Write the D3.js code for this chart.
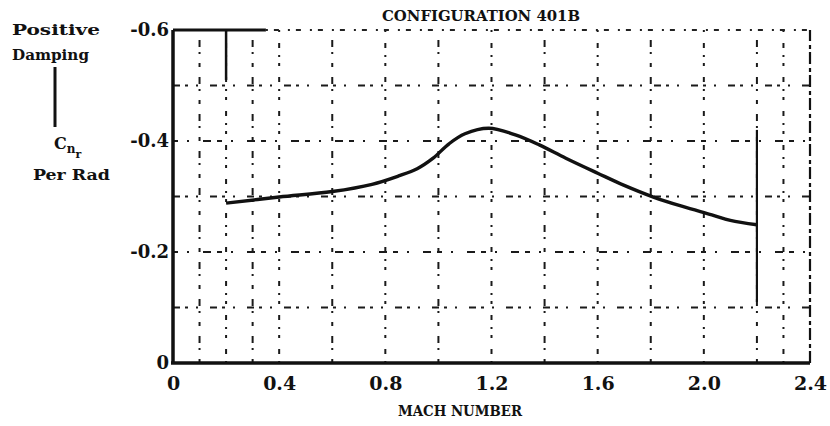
<!DOCTYPE html>
<html>
<head>
<meta charset="utf-8">
<script src="https://cdn.jsdelivr.net/npm/d3@7"></script>
<style>
  html, body { margin: 0; padding: 0; background: #fff; }
  svg { display: block; }
  text { font-family: "DejaVu Serif", serif; font-weight: bold; fill: #111; }
</style>
</head>
<body>
<svg id="chart" width="830" height="426"></svg>
<script>
// Yawing-moment damping derivative vs Mach number, configuration 401B
const machNumbers = [0.2, 0.4, 0.6, 0.75, 0.85, 0.92, 0.98, 1.04, 1.1, 1.19, 1.29, 1.38, 1.48, 1.6, 1.7, 1.81, 1.92, 2.03, 2.1, 2.2];
const cnrValues   = [-0.288, -0.299, -0.309, -0.322, -0.337, -0.350, -0.369, -0.395, -0.413, -0.423, -0.411, -0.393, -0.369, -0.342, -0.320, -0.299, -0.282, -0.267, -0.257, -0.249];
const xTicks = [0, 0.4, 0.8, 1.2, 1.6, 2.0, 2.4];
const xTickLabels = ["0", "0.4", "0.8", "1.2", "1.6", "2.0", "2.4"];
const yTicks = [0, -0.2, -0.4, -0.6];
const yTickLabels = ["0", "-0.2", "-0.4", "-0.6"];
const xGrid = [0.1, 0.2, 0.3, 0.4, 0.6, 0.8, 1.0, 1.2, 1.4, 1.6, 1.8, 2.0, 2.2, 2.3];
const yGrid = [-0.1, -0.2, -0.3, -0.4, -0.5];

const svg = d3.select("#chart");
const margin = { left: 173, right: 20, top: 30, bottom: 63 };
const W = 830, H = 426;
const x = d3.scaleLinear().domain([0, 2.4]).range([margin.left, W - margin.right]);
const y = d3.scaleLinear().domain([0, -0.6]).range([H - margin.bottom, margin.top]);

// grid: broken, dotted printed lines
const grid = svg.append("g");
grid.selectAll("line.vg").data(xGrid).join("line")
  .attr("x1", d => x(d)).attr("x2", d => x(d))
  .attr("y1", y(0)).attr("y2", y(-0.6))
  .attr("stroke", "#1a1a1a").attr("stroke-width", 2)
  .attr("stroke-dasharray", (d, i) => i % 2 ? "2,7,5,11,3,6" : "4,9,2,5,7,10");
grid.selectAll("line.hg").data(yGrid).join("line")
  .attr("x1", x(0)).attr("x2", x(2.4))
  .attr("y1", d => y(d)).attr("y2", d => y(d))
  .attr("stroke", "#1a1a1a").attr("stroke-width", 2)
  .attr("stroke-dasharray", (d, i) => i % 2 ? "5,9,2,14,8,6" : "7,5,3,8,2,12");

// heavier printed verticals near the top-left and right edge
svg.append("line").attr("x1", x(0.2)).attr("x2", x(0.2)).attr("y1", y(-0.6)).attr("y2", y(-0.51))
  .attr("stroke", "#111").attr("stroke-width", 2.5);
svg.append("line").attr("x1", x(2.2)).attr("x2", x(2.2)).attr("y1", y(-0.42)).attr("y2", y(-0.11))
  .attr("stroke", "#111").attr("stroke-width", 2.2);

// frame
svg.append("line").attr("x1", x(0)).attr("x2", x(0)).attr("y1", y(0)).attr("y2", y(-0.6))
  .attr("stroke", "#111").attr("stroke-width", 3.5);
svg.append("line").attr("x1", x(0) - 2).attr("x2", x(2.4)).attr("y1", y(0)).attr("y2", y(0))
  .attr("stroke", "#111").attr("stroke-width", 3.5);
svg.append("line").attr("x1", x(0)).attr("x2", x(0.35)).attr("y1", y(-0.6)).attr("y2", y(-0.6))
  .attr("stroke", "#111").attr("stroke-width", 3);
svg.append("line").attr("x1", x(0.35)).attr("x2", x(2.4)).attr("y1", y(-0.6)).attr("y2", y(-0.6))
  .attr("stroke", "#222").attr("stroke-width", 2).attr("stroke-dasharray", "2,6,5,9");
svg.append("line").attr("x1", x(2.4)).attr("x2", x(2.4)).attr("y1", y(0)).attr("y2", y(-0.6))
  .attr("stroke", "#111").attr("stroke-width", 2.2).attr("stroke-dasharray", "12,3,4,4");

// axes via d3 with custom labels
const xAxis = d3.axisBottom(x).tickValues(xTicks).tickFormat((d, i) => xTickLabels[i]).tickSize(0).tickPadding(14);
const gx = svg.append("g").attr("transform", `translate(0,${y(0)})`).call(xAxis);
gx.select(".domain").remove();
gx.selectAll("text").style("font-size", "19px").style("font-family", "DejaVu Serif, serif").style("font-weight", "bold").attr("fill", "#111");

const yAxis = d3.axisLeft(y).tickValues(yTicks).tickFormat((d, i) => yTickLabels[i]).tickSize(0).tickPadding(4);
const gy = svg.append("g").attr("transform", `translate(${x(0)},0)`).call(yAxis);
gy.select(".domain").remove();
gy.selectAll("text").style("font-size", "18px").style("font-family", "DejaVu Serif, serif").style("font-weight", "bold").attr("fill", "#111");

// data curve
const line = d3.line().x((d, i) => x(machNumbers[i])).y(d => y(d)).curve(d3.curveCatmullRom.alpha(0.5));
svg.append("path").datum(cnrValues).attr("d", line)
  .attr("fill", "none").attr("stroke", "#111").attr("stroke-width", 3.4);

// titles and labels
svg.append("text").attr("x", 481).attr("y", 21).attr("text-anchor", "middle")
  .attr("textLength", 198).attr("lengthAdjust", "spacingAndGlyphs")
  .style("font-size", "14px").text("CONFIGURATION 401B");
svg.append("text").attr("x", 460).attr("y", 416).attr("text-anchor", "middle")
  .attr("textLength", 124).attr("lengthAdjust", "spacingAndGlyphs")
  .style("font-size", "14px").text("MACH NUMBER");

svg.append("text").attr("x", 12).attr("y", 35).attr("textLength", 88).attr("lengthAdjust", "spacingAndGlyphs")
  .style("font-size", "15px").text("Positive");
svg.append("text").attr("x", 12).attr("y", 60).attr("textLength", 77).attr("lengthAdjust", "spacingAndGlyphs")
  .style("font-size", "15px").text("Damping");
svg.append("line").attr("x1", 55).attr("x2", 55).attr("y1", 67).attr("y2", 127)
  .attr("stroke", "#111").attr("stroke-width", 3);
const cn = svg.append("text").attr("x", 54).attr("y", 149).style("font-size", "16px");
cn.append("tspan").text("C");
cn.append("tspan").attr("dy", 4).style("font-size", "12px").text("n");
cn.append("tspan").attr("dy", 5).style("font-size", "11px").text("r");
svg.append("text").attr("x", 33).attr("y", 180).attr("textLength", 77).attr("lengthAdjust", "spacingAndGlyphs")
  .style("font-size", "15px").text("Per Rad");
</script>
</body>
</html>
